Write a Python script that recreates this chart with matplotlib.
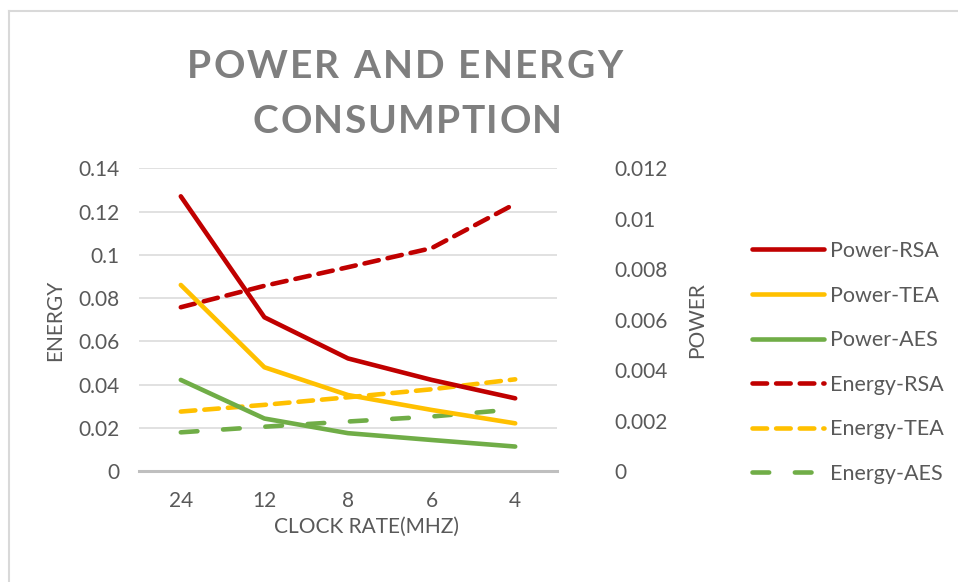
import matplotlib
matplotlib.use("Agg")
import matplotlib.pyplot as plt
from matplotlib.lines import Line2D
from matplotlib.textpath import TextToPath
from matplotlib.font_manager import FontProperties

plt.rcParams['font.family'] = ['Lato', 'DejaVu Sans']
plt.rcParams['lines.scale_dashes'] = False

categories = ['24', '12', '8', '6', '4']
power_rsa = [0.01089, 0.00610, 0.00447, 0.00362, 0.00289]
power_tea = [0.00738, 0.00412, 0.00302, 0.00243, 0.00190]
power_aes = [0.00362, 0.00209, 0.00151, 0.00124, 0.00098]
energy_rsa = [0.0758, 0.0857, 0.0943, 0.1031, 0.1236]
energy_tea = [0.0276, 0.0307, 0.0342, 0.0379, 0.0425]
energy_aes = [0.0180, 0.0206, 0.0230, 0.0253, 0.0287]
energy_ticks = [0, 0.02, 0.04, 0.06, 0.08, 0.1, 0.12, 0.14]
energy_ticklabels = ['0', '0.02', '0.04', '0.06', '0.08', '0.1', '0.12', '0.14']
power_ticks = [0, 0.002, 0.004, 0.006, 0.008, 0.01, 0.012]
power_ticklabels = ['0', '0.002', '0.004', '0.006', '0.008', '0.01', '0.012']

RED = '#C00000'
YEL = '#FFC000'
GRN = '#70AD47'
TXT = '#595959'
FS = 15

W, H = 958, 582
fig = plt.figure(figsize=(W / 100, H / 100), dpi=100)
fig.patch.set_facecolor('white')

def fx(px):
    return px / W

def fy(py):
    return 1 - py / H

# chart-area border (left and top edges visible)
fig.add_artist(Line2D([fx(9), fx(9)], [fy(11), 0], color='#D9D9D9', lw=1.5))
fig.add_artist(Line2D([fx(9), 1], [fy(11), fy(11)], color='#D9D9D9', lw=1.5))

ax = fig.add_axes([fx(139), fy(471.3), fx(557) - fx(139), fy(168.3) - fy(471.3)])
x = list(range(len(categories)))
ax.set_xlim(-0.5, len(categories) - 0.5)
ax.set_ylim(0, 0.14)
ax.set_yticks(energy_ticks)
ax.set_yticklabels(energy_ticklabels)
ax.set_xticks(x)
ax.set_xticklabels(categories)
ax.grid(axis='y', color='#D9D9D9', lw=1.1)
ax.set_axisbelow(True)
for s in ['top', 'right', 'left']:
    ax.spines[s].set_visible(False)
ax.spines['bottom'].set_color('#BFBFBF')
ax.spines['bottom'].set_linewidth(2.2)
ax.tick_params(axis='both', length=0, labelsize=FS, labelcolor=TXT)
ax.tick_params(axis='y', pad=14)
ax.tick_params(axis='x', pad=14)

lw = 3.3
l4, = ax.plot(x, energy_rsa, color=RED, lw=lw, dashes=(10.5, 6.5), dash_capstyle='round', label='Energy-RSA')
l5, = ax.plot(x, energy_tea, color=YEL, lw=lw, dashes=(10.5, 6.5), dash_capstyle='round', label='Energy-TEA')
l6, = ax.plot(x, energy_aes, color=GRN, lw=lw, dashes=(12, 18.5), dash_capstyle='round', label='Energy-AES')

ax2 = ax.twinx()
ax2.set_ylim(0, 0.012)
ax2.set_yticks(power_ticks)
ax2.set_yticklabels(power_ticklabels)
for s in ['top', 'right', 'left', 'bottom']:
    ax2.spines[s].set_visible(False)
ax2.tick_params(axis='y', length=0, labelsize=FS, labelcolor=TXT, pad=41)
l1, = ax2.plot(x, power_rsa, color=RED, lw=lw, solid_capstyle='round', solid_joinstyle='round', label='Power-RSA')
l2, = ax2.plot(x, power_tea, color=YEL, lw=lw, solid_capstyle='round', solid_joinstyle='round', label='Power-TEA')
l3, = ax2.plot(x, power_aes, color=GRN, lw=lw, solid_capstyle='round', solid_joinstyle='round', label='Power-AES')

# axis titles
fig.text(fx(367), fy(527), 'CLOCK RATE(MHZ)', ha='center', va='center', fontsize=FS, color=TXT)
fig.text(fx(55), fy(320), 'ENERGY', ha='center', va='center', rotation=90, fontsize=FS, color=TXT)
fig.text(fx(697), fy(320), 'POWER', ha='center', va='center', rotation=90, fontsize=FS, color=TXT)

# legend
handles = [l1, l2, l3, l4, l5, l6]
leg = fig.legend(handles=handles, labels=[h.get_label() for h in handles],
                 loc='upper left', bbox_to_anchor=(fx(752), fy(241)),
                 frameon=False, fontsize=15.5, handlelength=3.35, handletextpad=0.28,
                 labelspacing=1.14, borderaxespad=0, borderpad=0)
for t in leg.get_texts():
    t.set_color(TXT)

# letter-spaced title
title_lines = ['POWER AND ENERGY', 'CONSUMPTION']
title_spans = [(187, 622), (253, 562)]
title_y = [64, 119]
fp = FontProperties(family='Lato', weight='bold', size=28)
ttp = TextToPath()
for line, (x0, x1), yc in zip(title_lines, title_spans, title_y):
    widths = []
    for ch in line:
        w, h, d = ttp.get_text_width_height_descent(ch if ch != ' ' else 'n', fp, ismath=False)
        if ch == ' ':
            w = w * 0.45
        widths.append(w * 100 / 72)
    natural = sum(widths)
    target = x1 - x0
    sp = (target - natural) / (len(line) - 1)
    cx = x0
    for ch, w in zip(line, widths):
        if ch != ' ':
            fig.text(fx(cx), fy(yc), ch, fontproperties=fp, color='#7F7F7F', ha='left', va='center_baseline')
        cx += w + sp

fig.savefig('out.png', dpi=100, facecolor='white')
